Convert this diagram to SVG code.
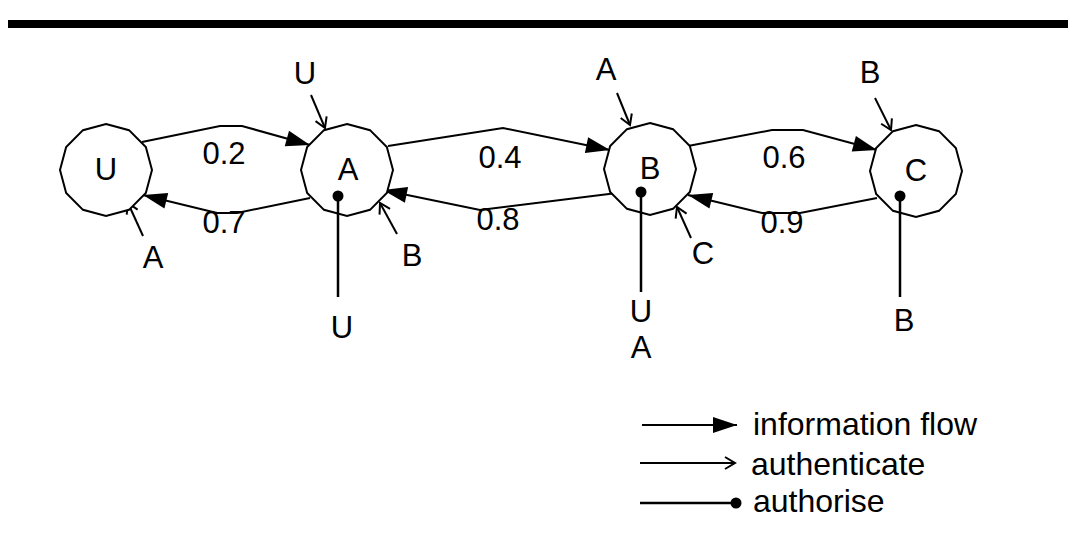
<svg xmlns="http://www.w3.org/2000/svg" xmlns:xlink="http://www.w3.org/1999/xlink" width="1068" height="556" viewBox="0 0 1068 556">
<style>
.node{fill:#fff;stroke:#000;stroke-width:2}
.t{font-family:"Liberation Sans",Arial,sans-serif;font-size:31px;fill:#000;text-anchor:middle}
.tl{font-family:"Liberation Sans",Arial,sans-serif;font-size:32px;fill:#000;text-anchor:start}
.flow{fill:none;stroke:#000;stroke-width:2;marker-end:url(#flowHead)}
.auth{fill:none;stroke:#000;stroke-width:2;marker-end:url(#openHead)}
.authz{fill:none;stroke:#000;stroke-width:2.5}
.dot{fill:#000}
</style>
<defs>
<polygon id="shape" points="0,-46 23,-39.84 39.84,-23 46,0 39.84,23 23,39.84 0,46 -23,39.84 -39.84,23 -46,0 -39.84,-23 -23,-39.84"/>
<marker id="flowHead" markerUnits="userSpaceOnUse" markerWidth="26" markerHeight="18" refX="24" refY="8" orient="auto" overflow="visible">
<path d="M0,0 L24,8 L0,16 z" fill="#000"/>
</marker>
<marker id="openHead" markerUnits="userSpaceOnUse" markerWidth="14" markerHeight="14" refX="0" refY="0" orient="auto" overflow="visible">
<path d="M-10,-6 L0,0 L-10,6" fill="none" stroke="#000" stroke-width="2"/>
</marker>
</defs>
<rect x="8" y="20" width="1060" height="8" fill="#000"/>
<g id="connectors">
<polyline class="flow" points="142,142 220,126 242,126 310,145"/>
<polyline class="flow" points="310,198 237,213 217,213 143,195"/>
<polyline class="flow" points="388,146 503,128 610,150"/>
<polyline class="flow" points="617,193 480,210 383,190"/>
<polyline class="flow" points="688,146 772,130 803,130 877,150"/>
<polyline class="flow" points="877,198 800,213 762,213 688,195"/>
<line class="auth" x1="311" y1="95" x2="325" y2="128"/>
<line class="auth" x1="143" y1="236" x2="128" y2="203"/>
<line class="auth" x1="397" y1="234" x2="380" y2="203"/>
<line class="auth" x1="617" y1="93" x2="630" y2="125"/>
<line class="auth" x1="691" y1="238" x2="677" y2="207"/>
<line class="auth" x1="875" y1="98" x2="891" y2="130"/>
</g>
<g id="node-U">
<use xlink:href="#shape" href="#shape" x="106" y="170" class="node"/>
<text class="t" x="106" y="180">U</text>
</g>
<g id="node-A">
<use xlink:href="#shape" href="#shape" x="347" y="170" class="node"/>
<text class="t" x="348" y="180">A</text>
</g>
<g id="node-B">
<use xlink:href="#shape" href="#shape" x="650" y="169" class="node"/>
<text class="t" x="650" y="179">B</text>
</g>
<g id="node-C">
<use xlink:href="#shape" href="#shape" x="916" y="171" class="node"/>
<text class="t" x="916" y="181">C</text>
</g>
<g id="authorise">
<line class="authz" x1="338" y1="196" x2="338" y2="297"/>
<circle class="dot" cx="338" cy="196" r="5.5"/>
<line class="authz" x1="641" y1="192" x2="641" y2="292"/>
<circle class="dot" cx="641" cy="192" r="5.5"/>
<line class="authz" x1="900" y1="196" x2="900" y2="297"/>
<circle class="dot" cx="900" cy="196" r="5.5"/>
</g>
<g id="labels">
<text class="t" x="224" y="164">0.2</text>
<text class="t" x="224" y="233">0.7</text>
<text class="t" x="500" y="168">0.4</text>
<text class="t" x="498" y="230">0.8</text>
<text class="t" x="784" y="168">0.6</text>
<text class="t" x="782" y="233">0.9</text>
<text class="t" x="305" y="84">U</text>
<text class="t" x="153" y="268">A</text>
<text class="t" x="412" y="266">B</text>
<text class="t" x="342" y="338">U</text>
<text class="t" x="606" y="80">A</text>
<text class="t" x="703" y="264">C</text>
<text class="t" x="641" y="322">U</text>
<text class="t" x="641" y="358">A</text>
<text class="t" x="870" y="83">B</text>
<text class="t" x="904" y="331">B</text>
</g>
<g id="legend">
<line class="flow" x1="642" y1="425" x2="737" y2="425"/>
<text class="tl" x="753" y="435">information flow</text>
<line class="auth" x1="640" y1="463" x2="735" y2="463"/>
<text class="tl" x="751" y="475">authenticate</text>
<line class="authz" x1="640" y1="503" x2="736" y2="503"/>
<circle class="dot" cx="736" cy="503" r="5.5"/>
<text class="tl" x="753" y="512">authorise</text>
</g>
</svg>
